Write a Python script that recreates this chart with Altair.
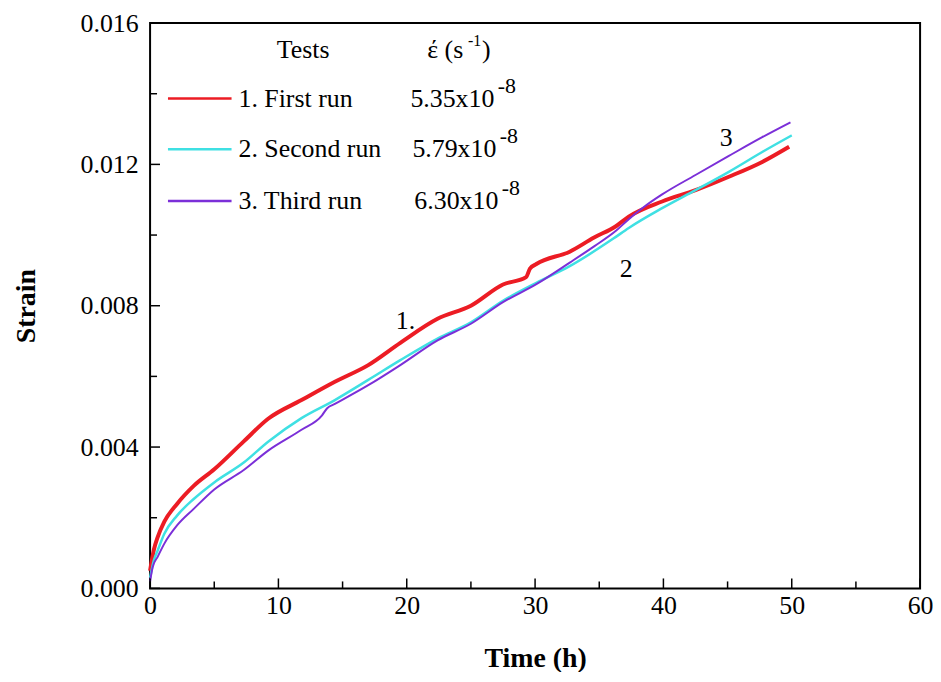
import altair as alt
import pandas as pd

# ---------------- data ----------------
t_run1 = [0, 0.3, 0.6, 1.1, 2.1, 3.4, 5.0, 7.3, 9.2, 11.8, 14.4, 17.0, 19.5, 22.4, 25.0,
          27.5, 29.3, 29.6, 30.1, 32.7, 34.6, 36.3, 37.3, 39.9, 42.5, 45.1, 47.7, 49.8]
s_run1 = [0.0005, 0.0011, 0.00146, 0.00188, 0.00239, 0.0029, 0.00337, 0.00416, 0.0048,
          0.00533, 0.00585, 0.00632, 0.00695, 0.00763, 0.0080, 0.0086, 0.00881, 0.00905,
          0.00918, 0.00953, 0.00993, 0.01025, 0.01052, 0.01095, 0.01127, 0.01165, 0.01207, 0.0125]

t_run2 = [0, 0.3, 0.6, 1.1, 2.1, 3.4, 5.0, 7.3, 9.2, 11.8, 14.4, 17.0, 19.5, 22.4, 25.0,
          27.5, 30.1, 32.7, 36.1, 37.3, 39.9, 42.5, 45.1, 47.7, 50.0]
s_run2 = [0.0003, 0.0008, 0.00108, 0.00154, 0.00206, 0.00253, 0.0030, 0.00356, 0.00415,
          0.00482, 0.00533, 0.0059, 0.00646, 0.00707, 0.00753, 0.00814, 0.00865, 0.00912,
          0.0099, 0.0102, 0.01076, 0.01127, 0.01179, 0.01235, 0.01282]

t_run3 = [0, 0.2, 0.6, 1.1, 2.1, 3.4, 5.0, 7.3, 9.2, 11.8, 13.4, 13.8, 14.4, 17.0, 19.5,
          22.4, 25.0, 27.5, 30.1, 32.7, 34.6, 36.3, 37.3, 38.5, 39.9, 42.5, 45.1, 47.7, 49.9]
s_run3 = [0.0002, 0.0006, 0.0009, 0.00126, 0.00178, 0.00225, 0.0028, 0.00335, 0.0039,
          0.00449, 0.0049, 0.0051, 0.00522, 0.00575, 0.00632, 0.00702, 0.00749, 0.0081,
          0.00861, 0.00922, 0.00968, 0.01012, 0.01045, 0.0108, 0.01115, 0.0117, 0.01224,
          0.01277, 0.01319]

run_names = ["1. First run", "2. Second run", "3. Third run"]
rate_values = ["5.35x10", "5.79x10", "6.30x10"]
rate_exponent = "-8"
curve_labels = ["1.", "2", "3"]
curve_label_t = [19.9, 37.1, 44.9]
curve_label_s = [0.00758, 0.00904, 0.01274]

x_major = [0, 10, 20, 30, 40, 50, 60]
x_minor = [5, 15, 25, 35, 45, 55]
y_major = [0.0, 0.004, 0.008, 0.012, 0.016]
y_minor = [0.002, 0.006, 0.010, 0.014]

# ---------------- styling ----------------
FONT = "Liberation Serif"
COLORS = ["#ec1c24", "#3fe0e3", "#7b2fd8"]
WIDTHS = [4.0, 2.5, 2.0]
W, H = 775, 569

xscale = alt.Scale(domain=[0, 60], nice=False, zero=False)
yscale = alt.Scale(domain=[0, 0.016], nice=False, zero=False)

xaxis = alt.Axis(values=x_major, format="d", ticks=False, tickSize=0, domain=False, grid=False,
                 labelFlush=False, labelOverlap=False,
                 labelFont=FONT, labelFontSize=26, labelColor="black", labelPadding=4,
                 titleFont=FONT, titleFontSize=28, titleFontWeight="bold", titleColor="black",
                 titlePadding=27)
yaxis = alt.Axis(values=y_major, format=".3f", ticks=False, tickSize=0, domain=False, grid=False,
                 labelFlush=False, labelOverlap=False,
                 labelFont=FONT, labelFontSize=26, labelColor="black", labelPadding=12,
                 titleFont=FONT, titleFontSize=28, titleFontWeight="bold", titleColor="black",
                 titlePadding=40)


def X(field="t"):
    return alt.X(f"{field}:Q", scale=xscale, axis=xaxis, title="Time (h)")


def Y(field="s"):
    return alt.Y(f"{field}:Q", scale=yscale, axis=yaxis, title="Strain")


series = [(t_run1, s_run1), (t_run2, s_run2), (t_run3, s_run3)]

layers = []
for i, (tt, ss) in enumerate(series):
    df = pd.DataFrame({"t": tt, "s": ss})
    layers.append(alt.Chart(df).mark_line(color=COLORS[i], strokeWidth=WIDTHS[i],
                                          interpolate="monotone").encode(
        x=X(), y=Y(), order="t:Q"))


# inward ticks
def xticks(vals, length):
    return alt.Chart(pd.DataFrame({"t": vals})).mark_rule(color="black", strokeWidth=1.5).encode(
        x=X(), y=alt.value(H), y2=alt.value(H - length))


def yticks(vals, length):
    return alt.Chart(pd.DataFrame({"s": vals})).mark_rule(color="black", strokeWidth=1.5).encode(
        y=Y(), x=alt.value(0), x2=alt.value(length))


layers += [xticks(x_major, 10), xticks(x_minor, 7), yticks(y_major, 10), yticks(y_minor, 7)]

one = pd.DataFrame({"a": [0]})


def label(text, x, y, size=26, align="left", baseline="middle"):
    return alt.Chart(one).mark_text(font=FONT, fontSize=size, color="black", align=align,
                                    baseline=baseline).encode(
        x=alt.value(x), y=alt.value(y), text=alt.value(text))


# legend block
layers.append(label("Tests", 154, 27, align="center"))
layers.append(label("έ (s", 279, 27))
layers.append(label("-1", 320, 18, size=16))
layers.append(label(")", 334, 27))
row_y = [76, 127, 179]
row_x_val = [262, 264, 266]
for i in range(3):
    layers.append(alt.Chart(one).mark_rule(color=COLORS[i], strokeWidth=2.5).encode(
        x=alt.value(18), x2=alt.value(82), y=alt.value(row_y[i])))
    layers.append(label(run_names[i], 89, row_y[i]))
    layers.append(label(rate_values[i], row_x_val[i], row_y[i]))
    layers.append(label(rate_exponent, row_x_val[i] + 88, row_y[i] - 13, size=22))

# curve labels
cl = pd.DataFrame({"t": curve_label_t, "s": curve_label_s, "txt": curve_labels})
layers.append(alt.Chart(cl).mark_text(font=FONT, fontSize=26, color="black").encode(
    x=X(), y=Y(), text="txt:N"))

chart = alt.layer(*layers).properties(
    width=W, height=H,
    autosize=alt.AutoSizeParams(type="none"),
    padding={"left": 143, "top": 13, "right": 13, "bottom": 82},
    background="white",
).configure_view(stroke="black", strokeWidth=2)

chart.save("out.html", embed_options={"renderer": "svg", "actions": False})
